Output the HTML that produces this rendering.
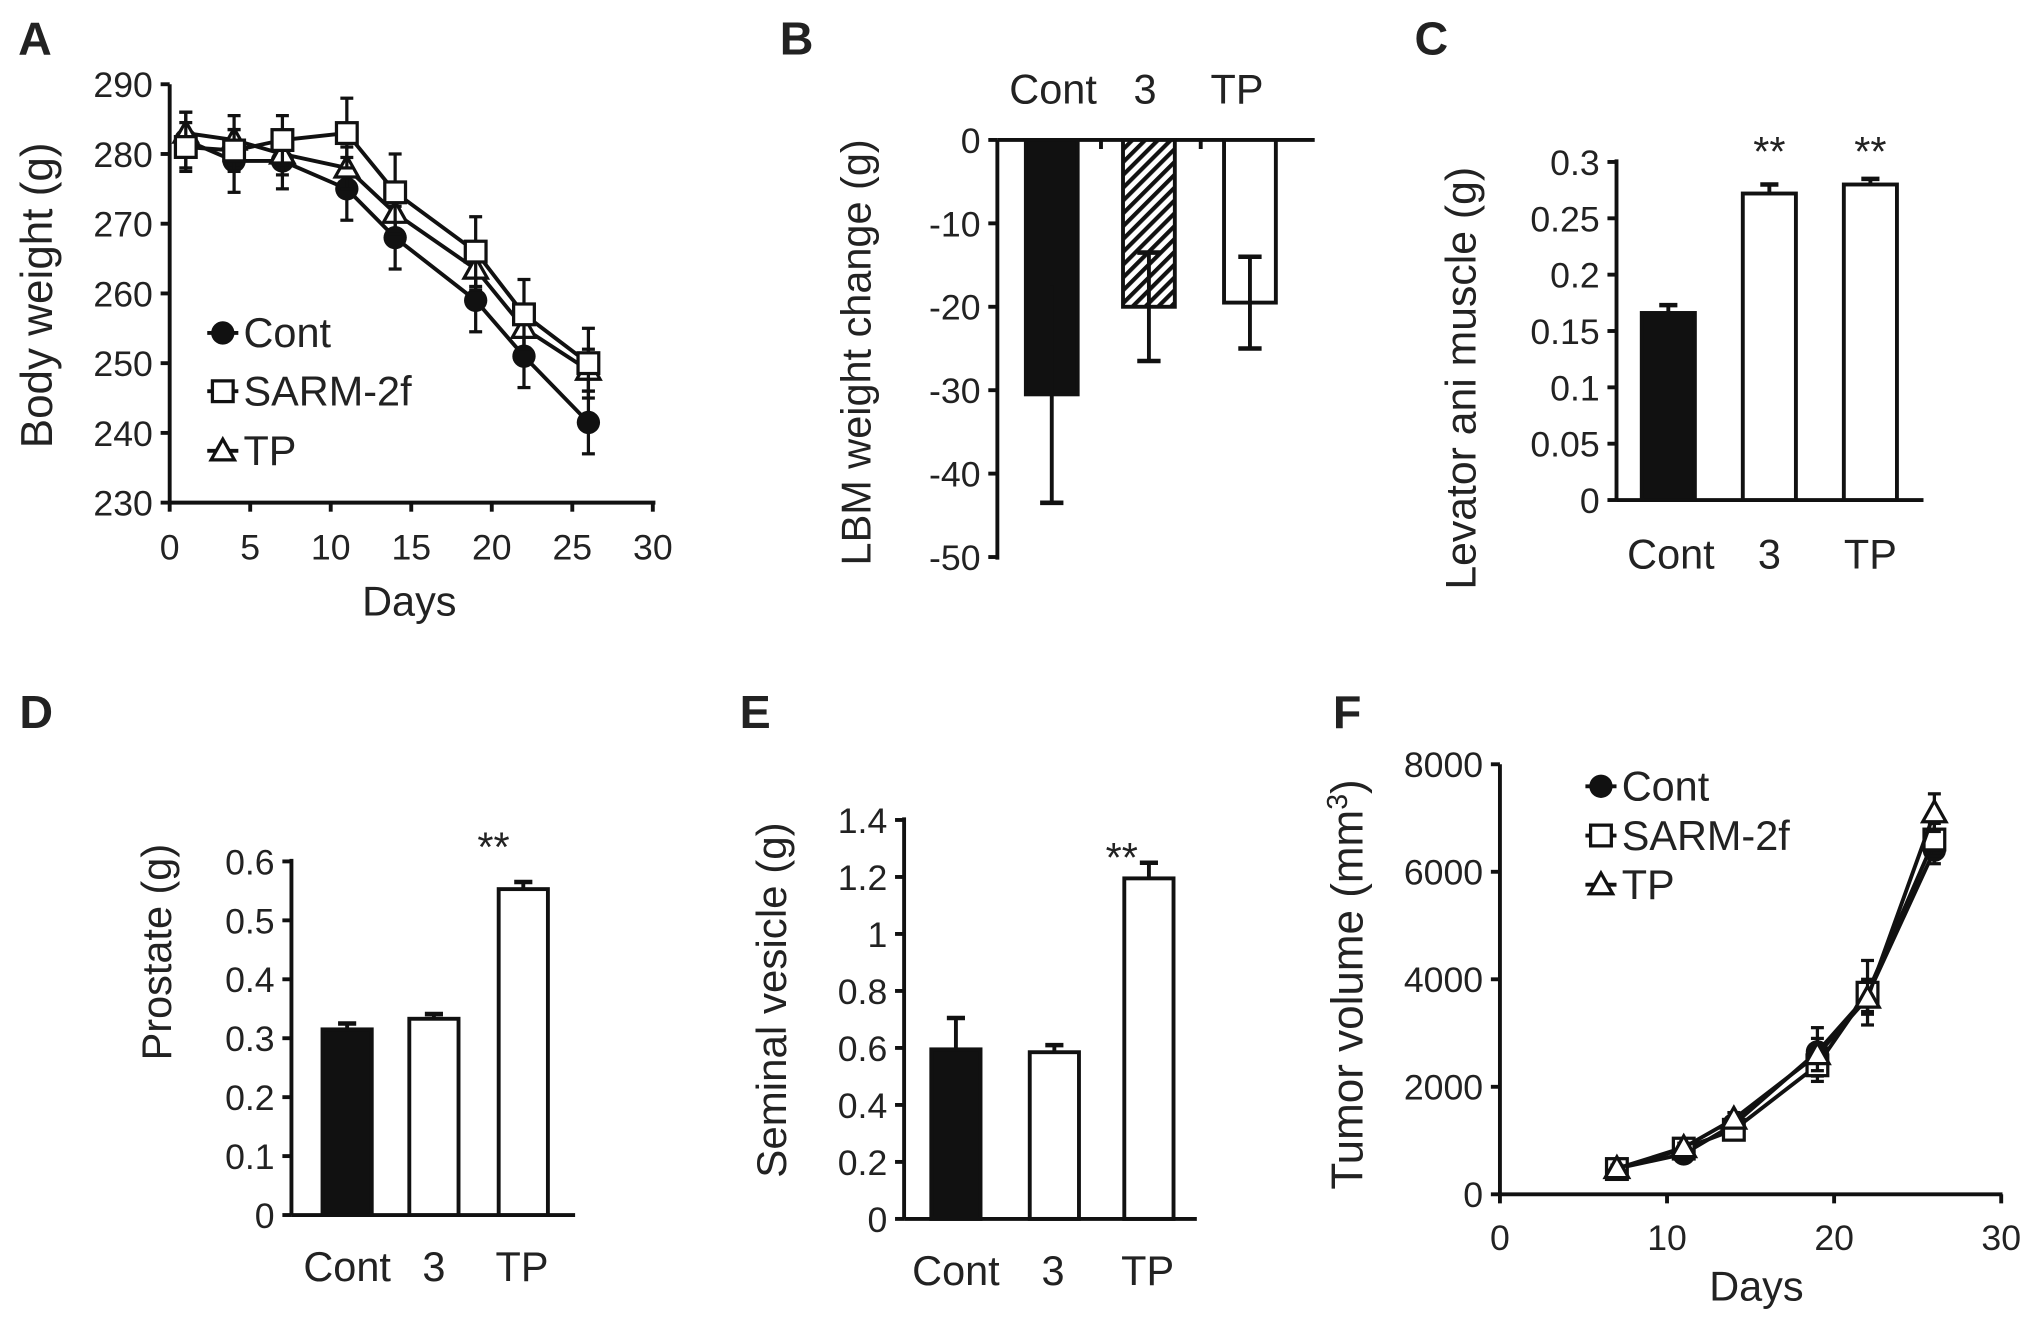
<!DOCTYPE html>
<html><head><meta charset="utf-8"><style>
html,body{margin:0;padding:0;background:#fff;}
svg{display:block;}
text{font-family:"Liberation Sans",sans-serif;fill:#222;}
</style></head><body>
<svg id="fig" xmlns="http://www.w3.org/2000/svg" width="2031" height="1320" viewBox="0 0 1568 1019">
<defs>
<pattern id="hatch" patternUnits="userSpaceOnUse" width="7" height="7" patternTransform="rotate(45)">
<rect width="7" height="7" fill="#fff"/><rect width="3.2" height="7" fill="#111"/>
</pattern>
</defs>
</svg>
<script>
// Panel A data
const daysA = [1,4,7,11,14,19,22,26];
const contA = [282,279,279,275,268,259,251,241.5];
const contAErr = [4,4.5,4,4.5,4.5,4.5,4.5,4.5];
const sarmA = [281,280.5,282,283,274.5,266,257,250];
const sarmAErr = [3.5,3,3.5,5,5.5,5,5,5];
const tpA = [283,282,280,278,271.5,263.5,255,249];
const tpAErr = [3,3.5,3,3,3,3,3,3];
const ticksAY = [230,240,250,260,270,280,290];
const ticksAX = [0,5,10,15,20,25,30];
// Panel B data
const catsBar = ['Cont','3','TP'];
const valsB = [-30.5,-20,-19.5];
const errsB = [13,6.5,5.5];
const ticksBY = [0,-10,-20,-30,-40,-50];
// Panel C data
const valsC = [0.166,0.272,0.28];
const errsC = [0.007,0.008,0.005];
const ticksCY = [0,0.05,0.1,0.15,0.2,0.25,0.3];
// Panel D data
const valsD = [0.315,0.333,0.553];
const errsD = [0.01,0.008,0.012];
const ticksDY = [0,0.1,0.2,0.3,0.4,0.5,0.6];
// Panel E data
const valsE = [0.595,0.585,1.195];
const errsE = [0.11,0.025,0.055];
const ticksEY = [0,0.2,0.4,0.6,0.8,1,1.2,1.4];
// Panel F data
const daysF = [7,11,14,19,22,26];
const contF = [480,750,1300,2650,3700,6400];
const contFErr = [60,80,120,450,300,250];
const sarmF = [470,850,1200,2400,3750,6600];
const sarmFErr = [60,80,100,300,600,300];
const tpF = [480,870,1400,2600,3650,7100];
const tpFErr = [60,80,120,300,300,350];
const ticksFY = [0,2000,4000,6000,8000];
const ticksFX = [0,10,20,30];

const svg = document.getElementById('fig');
const NS = 'http://www.w3.org/2000/svg';
function mk(tag, attrs, parent){
  const e = document.createElementNS(NS, tag);
  for (const k in attrs) e.setAttribute(k, attrs[k]);
  (parent||svg).appendChild(e);
  return e;
}
function lin(d0,d1,r0,r1){return v => r0 + (v-d0)*(r1-r0)/(d1-d0);}
function line(x1,y1,x2,y2,w,name){
  const e = mk('line',{x1:x1,y1:y1,x2:x2,y2:y2,stroke:'#111','stroke-width':w||3});
  
  
  return e;
}
function txt(x,y,s,size,anchor,name,extra){
  const e = mk('text',Object.assign({x:x,y:y,'font-size':size,'text-anchor':anchor||'middle'},extra||{}));
  e.textContent = s;
  
  
  return e;
}
function label(x,y,s){
  const e = txt(x,y,s,36,'middle','panel-label-'+s.toLowerCase(),{'font-weight':'bold',fill:'#111'});
  return e;
}
function ytitle(x,y,s,name,size){
  const e = txt(x,y,s,size||32,'middle',name,{transform:'rotate(-90 '+x+' '+y+')'});
  return e;
}
function yAxis(ax, sc, ticks, x0, yTop, yBot, prefix){
  line(x0,yTop,x0,yBot,3,prefix+'-y-axis');
  ticks.forEach(t=>{
    const y = sc(t);
    line(x0-7,y,x0,y,3,prefix+'-y-tick');
    txt(x0-13,y+10,String(t),27.5,'end',prefix+'-y-tick-label');
  });
}
function marker(kind,x,y,name){
  let e;
  if(kind==='circle') e = mk('circle',{cx:x,cy:y,r:9,fill:'#111'});
  else if(kind==='square') e = mk('rect',{x:x-8,y:y-8,width:16,height:16,fill:'#fff',stroke:'#111','stroke-width':2.5});
  else e = mk('polygon',{points:(x)+','+(y-9)+' '+(x+9)+','+(y+7)+' '+(x-9)+','+(y+7),fill:'#fff',stroke:'#111','stroke-width':2.5});
  
  
  return e;
}
function series(xs, ys, errs, sx, sy, kind, name){
  const pts = xs.map((d,i)=>sx(d)+','+sy(ys[i])).join(' ');
  const pl = mk('polyline',{points:pts,fill:'none',stroke:'#111','stroke-width':3});
  
  
  xs.forEach((d,i)=>{
    const x = sx(d);
    line(x,sy(ys[i]-errs[i]),x,sy(ys[i]+errs[i]),2.5,name+'-error-bar');
    line(x-5,sy(ys[i]+errs[i]),x+5,sy(ys[i]+errs[i]),2.5,name+'-error-cap');
    line(x-5,sy(ys[i]-errs[i]),x+5,sy(ys[i]-errs[i]),2.5,name+'-error-cap');
  });
  xs.forEach((d,i)=>marker(kind,sx(d),sy(ys[i]),name+'-point'));
}
function legend(x,y,kind,s,name){
  line(x-12,y,x+12,y,3,name+'-legend-line');
  marker(kind,x,y,name+'-legend-marker');
  txt(x+16,y+11,s,32,'start',name+'-legend-label');
}
function bars(vals, errs, sc, centers, w, fills, prefix){
  vals.forEach((v,i)=>{
    const y0 = sc(0), y1 = sc(v);
    const r = mk('rect',{x:centers[i]-w/2,y:Math.min(y0,y1),width:w,height:Math.abs(y1-y0),fill:fills[i],stroke:'#111','stroke-width':3});
    
    
    const ya = sc(v+errs[i]), yb = sc(v-errs[i]);
    if(v<0){
      line(centers[i],ya,centers[i],yb,3,prefix+'-error-bar');
      line(centers[i]-9,yb,centers[i]+9,yb,3.5,prefix+'-error-cap');
      if(i>0) line(centers[i]-9,ya,centers[i]+9,ya,3.5,prefix+'-error-cap');
    } else {
      line(centers[i],y1,centers[i],ya,3,prefix+'-error-bar');
      line(centers[i]-7,ya,centers[i]+7,ya,3.5,prefix+'-error-cap');
    }
  });
}

// ---------- Panel A ----------
label(27,42,'A');
{
  const sx = lin(0,30,131,504), sy = lin(230,290,388,65);
  yAxis(null, sy, ticksAY, 131, 65, 388, 'a');
  line(131,388,506,388,3,'a-x-axis');
  ticksAX.forEach(t=>{ line(sx(t),388,sx(t),395,3,'a-x-tick'); txt(sx(t),432,String(t),27.5,'middle','a-x-tick-label'); });
  ytitle(40,228,'Body weight (g)','a-y-axis-title',34);
  txt(316,475,'Days',32,'middle','a-x-axis-title');
  series(daysA,contA,contAErr,sx,sy,'circle','a-cont');
  series(daysA,tpA,tpAErr,sx,sy,'triangle','a-tp');
  series(daysA,sarmA,sarmAErr,sx,sy,'square','a-sarm');
  legend(172,257,'circle','Cont','a-cont');
  legend(172,302,'square','SARM-2f','a-sarm');
  legend(172,348,'triangle','TP','a-tp');
}
// ---------- Panel B ----------
label(615,42,'B');
{
  const sy = lin(0,-50,108,430);
  yAxis(null, sy, ticksBY, 770, 108, 432, 'b');
  line(770,108,1015,108,3,'b-x-axis');
  const cx = [812,887,965];
  [850,927].forEach(x=>line(x,108,x,115,3,'b-x-tick'));
  bars(valsB,errsB,sy,cx,40,['#111','url(#hatch)','#fff'],'b');
  catsBar.forEach((c,i)=>txt([813,884,955][i],80,c,32,'middle','b-category-label'));
  ytitle(672,272,'LBM weight change (g)','b-y-axis-title',32);
}
// ---------- Panel C ----------
label(1105,42,'C');
{
  const sy = lin(0,0.3,386,125);
  yAxis(null, sy, ticksCY, 1248, 123, 386, 'c');
  line(1248,386,1485,386,3,'c-x-axis');
  const cx = [1288,1366,1444];
  bars(valsC,errsC,sy,cx,41,['#111','#fff','#fff'],'c');
  txt(1366,128,'**',32,'middle','c-significance-3');
  txt(1444,128,'**',32,'middle','c-significance-tp');
  catsBar.forEach((c,i)=>txt([1290,1366,1444][i],439,c,32,'middle','c-category-label'));
  ytitle(1139,292,'Levator ani muscle (g)','c-y-axis-title',33);
}
// ---------- Panel D ----------
label(28,562,'D');
{
  const sy = lin(0,0.6,938,665);
  yAxis(null, sy, ticksDY, 225, 663, 938, 'd');
  line(225,938,444,938,3,'d-x-axis');
  const cx = [268,335,404];
  bars(valsD,errsD,sy,cx,38,['#111','#fff','#fff'],'d');
  txt(381,665,'**',32,'middle','d-significance-tp');
  catsBar.forEach((c,i)=>txt([268,335,403][i],989,c,32,'middle','d-category-label'));
  ytitle(132,735,'Prostate (g)','d-y-axis-title',32);
}
// ---------- Panel E ----------
label(583,562,'E');
{
  const sy = lin(0,1.4,941,633);
  yAxis(null, sy, ticksEY, 698, 631, 941, 'e');
  line(698,941,924,941,3,'e-x-axis');
  const cx = [738,814,887];
  bars(valsE,errsE,sy,cx,38,['#111','#fff','#fff'],'e');
  txt(866,673,'**',32,'middle','e-significance-tp');
  catsBar.forEach((c,i)=>txt([738,813,886][i],992,c,32,'middle','e-category-label'));
  ytitle(607,772,'Seminal vesicle (g)','e-y-axis-title',32.5);
}
// ---------- Panel F ----------
label(1040,562,'F');
{
  const sx = lin(0,30,1158,1545), sy = lin(0,8000,922,590);
  yAxis(null, sy, ticksFY, 1158, 590, 922, 'f');
  line(1158,922,1546,922,3,'f-x-axis');
  ticksFX.forEach(t=>{ line(sx(t),922,sx(t),929,3,'f-x-tick'); txt(sx(t),965,String(t),27.5,'middle','f-x-tick-label'); });
  const tt = txt(1052,760,'Tumor volume (mm',34,'middle','f-y-axis-title',{transform:'rotate(-90 1052 760)'});
  const sup = mk('tspan',{dy:-12,'font-size':22}); sup.textContent='3'; tt.appendChild(sup);
  const cl = mk('tspan',{dy:12}); cl.textContent=')'; tt.appendChild(cl);
  txt(1356,1004,'Days',32,'middle','f-x-axis-title');
  series(daysF,contF,contFErr,sx,sy,'circle','f-cont');
  series(daysF,sarmF,sarmFErr,sx,sy,'square','f-sarm');
  series(daysF,tpF,tpFErr,sx,sy,'triangle','f-tp');
  legend(1236,607,'circle','Cont','f-cont');
  legend(1236,645,'square','SARM-2f','f-sarm');
  legend(1236,683,'triangle','TP','f-tp');
}
</script>
</body></html>
